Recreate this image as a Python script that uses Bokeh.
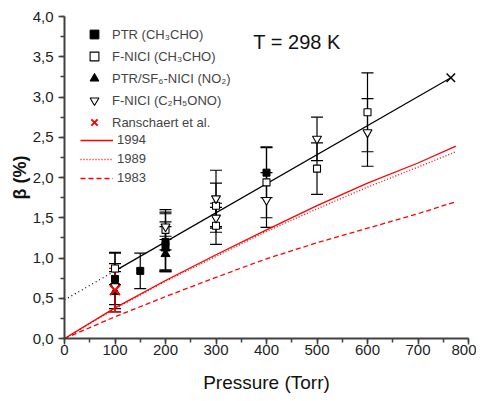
from bokeh.plotting import figure
from bokeh.models import (ColumnDataSource, Whisker, TeeHead, Legend, LegendItem,
                          Label, CustomJSTickFormatter, SingleIntervalTicker)
from bokeh.embed import file_html
from bokeh.resources import INLINE

# ---------------- data ----------------
ptr_p = [100, 150, 200, 200, 400]
ptr_b = [0.74, 0.84, 1.20, 1.15, 2.06]
ptr_e = [0.32, 0.22, 0.37, 0.30, 0.31]

fnici_p = [100, 200, 300, 300, 400, 500, 600]
fnici_b = [0.87, 1.35, 1.65, 1.40, 1.94, 2.11, 2.81]
fnici_e = [0.20, 0.25, 0.28, 0.23, 0.44, 0.32, 0.49]

no2_p = [100, 200, 200]
no2_b = [0.58, 1.12, 1.05]
no2_e = [0.25, 0.27, 0.22]

eto_p = [100, 200, 300, 300, 400, 500, 600]
eto_b = [0.65, 1.39, 1.74, 1.50, 1.72, 2.48, 2.56]
eto_e = [0.28, 0.16, 0.35, 0.18, 0.34, 0.27, 0.42]

ran_p = [100]
ran_b = [0.60]
ran_e = [0.27]

fit_p = [0, 100, 765]
fit_b = [0.48, 0.84, 3.24]

lit_p = [0, 100, 200, 300, 400, 500, 600, 700, 775]
b1994 = [0, 0.38, 0.72, 1.04, 1.35, 1.65, 1.93, 2.18, 2.39]
b1989 = [0, 0.37, 0.71, 1.02, 1.33, 1.61, 1.88, 2.13, 2.32]
b1983 = [0, 0.27, 0.52, 0.76, 0.99, 1.19, 1.37, 1.55, 1.70]

legend_labels = ["PTR (CH\u2083CHO)", "F-NICI (CH\u2083CHO)", "PTR/SF\u2086-NICI (NO\u2082)",
                 "F-NICI (C\u2082H\u2085ONO)", "Ranschaert et al.", "1994", "1989", "1983"]

FONT = "Liberation Sans"
RED = "#ff0000"

p = figure(frame_width=404, frame_height=322, x_range=(0, 800), y_range=(0, 4),
           output_backend="svg", toolbar_location=None,
           min_border_left=64, min_border_right=8, min_border_top=16, min_border_bottom=59)
p.outline_line_color = None
p.xgrid.visible = False
p.ygrid.visible = False
p.background_fill_color = "white"

def src(px, pb, pe):
    return ColumnDataSource(dict(x=px, y=pb,
                                 up=[b + e for b, e in zip(pb, pe)],
                                 lo=[b - e for b, e in zip(pb, pe)]))

def whisk(s, color="black"):
    w = Whisker(source=s, base="x", upper="up", lower="lo", dimension="height",
                line_color=color, line_width=1.2,
                upper_head=TeeHead(size=12, line_color=color, line_width=1.2),
                lower_head=TeeHead(size=12, line_color=color, line_width=1.2))
    p.add_layout(w)

s_ptr = src(ptr_p, ptr_b, ptr_e)
s_fn = src(fnici_p, fnici_b, fnici_e)
s_no2 = src(no2_p, no2_b, no2_e)
s_eto = src(eto_p, eto_b, eto_e)
s_ran = src(ran_p, ran_b, ran_e)

# literature curves
r94 = p.line(lit_p, b1994, line_color=RED, line_width=1.3)
r89 = p.line(lit_p, b1989, line_color=RED, line_width=1.3, line_dash="1 2")
r83 = p.line(lit_p, b1983, line_color=RED, line_width=1.3, line_dash="5 3")

# fit line
p.line(fit_p[:2], fit_b[:2], line_color="black", line_width=1.2, line_dash="1 3")
p.line(fit_p[1:], fit_b[1:], line_color="black", line_width=1.2)
p.scatter([fit_p[-1]], [fit_b[-1]], marker="x", size=12, line_color="black", line_width=1.5)

for s in (s_ptr, s_fn, s_no2, s_eto):
    whisk(s)
whisk(s_ran, RED)

r_ptr = p.scatter("x", "y", source=s_ptr, marker="square", size=7,
                  fill_color="black", line_color="black")
r_fn = p.scatter("x", "y", source=s_fn, marker="square", size=7,
                 fill_color="white", line_color="black", line_width=1.1)
r_no2 = p.scatter("x", "y", source=s_no2, marker="triangle", size=9,
                  fill_color="black", line_color="black")
r_eto = p.scatter("x", "y", source=s_eto, marker="inverted_triangle", size=9,
                  fill_color="white", line_color="black", line_width=1.1)
r_ran = p.scatter("x", "y", source=s_ran, marker="x", size=14,
                  line_color=RED, line_width=2)

# axes
fmt = CustomJSTickFormatter(code="return tick.toFixed(1).replace('.', ',');")
p.yaxis.formatter = fmt
p.yaxis.ticker = SingleIntervalTicker(interval=0.5, num_minor_ticks=2)
p.xaxis.ticker = SingleIntervalTicker(interval=100, num_minor_ticks=2)
for ax in (p.xaxis, p.yaxis):
    ax.axis_line_color = "#404040"
    ax.axis_line_width = 2
    ax.major_tick_line_color = "#404040"
    ax.minor_tick_line_color = "#404040"
    ax.major_tick_line_width = 1.5
    ax.minor_tick_line_width = 1.5
    ax.major_tick_in = 0
    ax.major_tick_out = 6
    ax.minor_tick_in = 0
    ax.minor_tick_out = 4
    ax.major_label_text_font = FONT
    ax.major_label_text_font_size = "15px"
    ax.major_label_text_color = "#222222"
    ax.axis_label_text_font = FONT
    ax.axis_label_text_color = "#111111"
p.yaxis.major_label_standoff = 5
p.xaxis.major_label_standoff = 0
p.yaxis.axis_label = "\u03b2 (%)"
p.yaxis.axis_label_text_font_style = "bold"
p.yaxis.axis_label_text_font_size = "18px"
p.yaxis.axis_label_standoff = 0
p.xaxis.axis_label = "Pressure (Torr)"
p.xaxis.axis_label_text_font_style = "normal"
p.xaxis.axis_label_text_font_size = "19px"
p.xaxis.axis_label_standoff = 14

# legends
leg1 = Legend(items=[LegendItem(label=legend_labels[i], renderers=[r])
                     for i, r in enumerate([r_ptr, r_fn, r_no2, r_eto, r_ran])],
              location=(18, 205), glyph_width=24, glyph_height=22, spacing=0,
              label_standoff=6, padding=0, margin=0, border_line_color=None,
              background_fill_alpha=0, label_text_font=FONT,
              label_text_font_size="13px", label_height=22)
leg2 = Legend(items=[LegendItem(label=legend_labels[5 + i], renderers=[r])
                     for i, r in enumerate([r94, r89, r83])],
              location=(16, 153), glyph_width=33, glyph_height=14, spacing=4,
              label_standoff=4, padding=0, margin=0, border_line_color=None,
              background_fill_alpha=0, label_text_font=FONT,
              label_text_font_size="13px", label_height=14)
p.add_layout(leg1)
p.add_layout(leg2)

p.add_layout(Label(x=374, y=3.68, text="T = 298 K", text_baseline="middle",
                   text_font=FONT, text_font_size="20px", text_color="#111111"))

open("out.html", "w").write(file_html(p, INLINE))
